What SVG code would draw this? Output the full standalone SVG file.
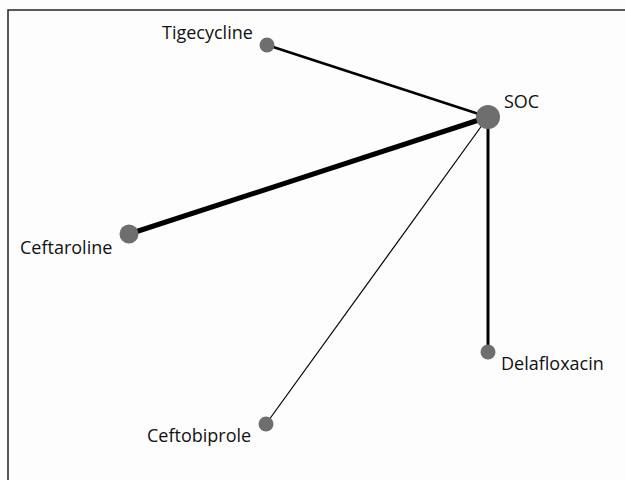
<svg xmlns="http://www.w3.org/2000/svg" width="625" height="480" viewBox="0 0 625 480">
<style>
.lbl{font-family:"Open Sans","Noto Sans","DejaVu Sans",sans-serif;font-size:18px;fill:#111}
.n{fill:#6e6e6e}
.e{stroke:#000;fill:none;stroke-linecap:butt}
</style>
<rect x="0" y="0" width="625" height="480" fill="#fdfdfd"/>
<path d="M8,480 V10 H625" fill="none" stroke="#222" stroke-width="1.5"/>
<g id="edges">
<line class="e" x1="488" y1="117" x2="267" y2="45" stroke-width="2.5"/>
<line class="e" x1="488" y1="117" x2="129" y2="234" stroke-width="5"/>
<line class="e" x1="488" y1="117" x2="266" y2="424" stroke-width="1.2"/>
<line class="e" x1="488" y1="117" x2="488" y2="352" stroke-width="3"/>
</g>
<g id="SOC"><circle class="n" cx="488" cy="117" r="12"/><text class="lbl" x="504" y="108">SOC</text></g>
<g id="Tigecycline"><circle class="n" cx="267" cy="45" r="7.5"/><text class="lbl" x="162" y="39">Tigecycline</text></g>
<g id="Ceftaroline"><circle class="n" cx="129" cy="234" r="9.5"/><text class="lbl" x="20" y="254">Ceftaroline</text></g>
<g id="Delafloxacin"><circle class="n" cx="488" cy="352" r="7.5"/><text class="lbl" x="501" y="370">Delafloxacin</text></g>
<g id="Ceftobiprole"><circle class="n" cx="266" cy="424" r="7.5"/><text class="lbl" x="147" y="442">Ceftobiprole</text></g>
</svg>
